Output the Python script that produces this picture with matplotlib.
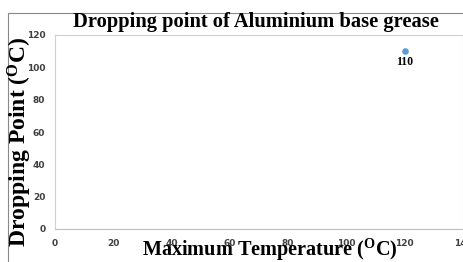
import matplotlib.pyplot as plt
from matplotlib.patches import Rectangle

max_temp = [120]
dropping_point = [110]
point_labels = ['110']
x_ticks = [0, 20, 40, 60, 80, 100, 120, 140]
y_ticks = [0, 20, 40, 60, 80, 100, 120]

W, H = 464, 262
fig = plt.figure(figsize=(W / 100, H / 100), dpi=100)
ax = fig.add_axes([55 / W, 1 - 229 / H, (463 - 55) / W, (229 - 35) / H])

ax.scatter(max_temp, dropping_point, s=14, color='#5B9BD5', zorder=3, clip_on=False)
for x, y, t in zip(max_temp, dropping_point, point_labels):
    ax.annotate(t, (x, y), xytext=(0, -10), textcoords='offset points', ha='center',
                fontsize=8.5, fontweight='bold', family='Liberation Serif')

ax.set_xlim(0, 140)
ax.set_ylim(0, 120)
ax.set_xticks(x_ticks)
ax.set_yticks(y_ticks)
ax.tick_params(length=0, labelsize=6.5, labelcolor='#404040', pad=7)
for lab in ax.get_xticklabels() + ax.get_yticklabels():
    lab.set_fontweight('bold')
for s in ax.spines.values():
    s.set_color('#C8D3DC')
    s.set_linewidth(0.8)
ax.spines['bottom'].set_color('#BFBFBF')

# outer chart border
fig.patches.append(Rectangle((8 / W, -0.1), 1.2, 1 - 13 / H + 0.1, transform=fig.transFigure,
                             fill=False, edgecolor='#888888', linewidth=0.8))

fig.text(256 / W, 1 - 22 / H, 'Dropping point of Aluminium base grease', ha='center', va='center',
         fontsize=14.8, fontweight='bold', family='Liberation Serif')
fig.text(269.5 / W, 1 - 250 / H, 'Maximum Temperature $\\mathregular{(^{O}C)}$',
         ha='center', va='center', fontsize=14.6, fontweight='bold', family='Liberation Serif')
fig.text(20 / W, 1 - 142 / H, 'Dropping Point $\\mathregular{(^{O}C)}$', ha='center', va='center',
         rotation=90, fontsize=17, fontweight='bold', family='Liberation Serif')

plt.savefig('out.png', dpi=100)
plt.close()
